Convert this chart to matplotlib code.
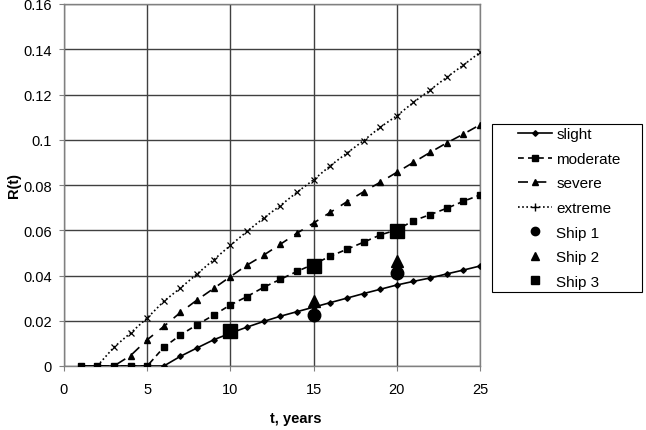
import matplotlib.pyplot as plt
from matplotlib.lines import Line2D
from matplotlib.patches import Rectangle
from matplotlib.ticker import FuncFormatter

plt.rcParams['font.family'] = ['Liberation Sans', 'DejaVu Sans']

t = list(range(1, 26))

slight = [0, 0, 0, 0, 0, 0, 0.0043, 0.0080, 0.0116, 0.0145, 0.0172, 0.0197, 0.0220, 0.0240,
          0.0260, 0.0280, 0.0300, 0.0320, 0.0339, 0.0358, 0.0374, 0.0389, 0.0407, 0.0424, 0.0442]
moderate = [0, 0, 0, 0, 0, 0.0083, 0.0137, 0.0183, 0.0225, 0.0270, 0.0307, 0.0348, 0.0383, 0.0418,
            0.0450, 0.0485, 0.0516, 0.0547, 0.0579, 0.0602, 0.0642, 0.0669, 0.0697, 0.0728, 0.0756]
severe = [0, 0, 0, 0.0046, 0.0116, 0.0175, 0.0237, 0.0292, 0.0343, 0.0395, 0.0446, 0.0490, 0.0538,
          0.0587, 0.0632, 0.0679, 0.0726, 0.0770, 0.0812, 0.0856, 0.0900, 0.0944, 0.0986, 0.1025, 0.1066]
extreme = [0, 0, 0.0083, 0.0146, 0.0212, 0.0286, 0.0345, 0.0407, 0.0470, 0.0533, 0.0595, 0.0654,
           0.0709, 0.0768, 0.0823, 0.0885, 0.0941, 0.0996, 0.1055, 0.1106, 0.1165, 0.1220, 0.1276,
           0.1330, 0.1386]

ship1_t = [15, 20]
ship1 = [0.0227, 0.0411]
ship2_t = [15, 20]
ship2 = [0.0289, 0.0465]
ship3_t = [10, 15, 20]
ship3 = [0.0153, 0.0443, 0.0598]

fs = 10.5

fig = plt.figure(figsize=(6.46, 4.31), dpi=100)
ax = fig.add_axes([64/646, 1-367/431, (480-64)/646, (367-5)/431])

lw = 1.2
ax.plot(t, slight, color='black', lw=lw, ls='-', marker='D', ms=2.8, zorder=3)
ax.plot(t, moderate, color='black', lw=lw, ls=(0, (3.5, 2.5)), marker='s', ms=3.8, zorder=3)
ax.plot(t, severe, color='black', lw=lw, ls=(0, (6, 5)), marker='^', ms=4.2, zorder=3)
ax.plot(t, extreme, color='black', lw=lw, ls=(0, (1, 1.5)), marker='x', ms=5, mew=0.9, zorder=3)

ax.plot(ship1_t, ship1, ls='none', color='black', marker='o', ms=9, zorder=4)
ax.plot(ship2_t, ship2, ls='none', color='black', marker='^', ms=9, zorder=4)
ax.plot(ship3_t, ship3, ls='none', color='black', marker='s', ms=10, zorder=4)

ax.set_xlim(0, 25)
ax.set_ylim(0, 0.16)
ax.set_xticks(range(0, 26, 5))
ax.set_yticks([i * 0.02 for i in range(9)])
ax.yaxis.set_major_formatter(FuncFormatter(lambda v, p: '%g' % round(v, 2)))
ax.grid(True, color='#404040', lw=1.0)
ax.set_axisbelow(True)
for s in ax.spines.values():
    s.set_color('#808080')
    s.set_linewidth(1.0)
ax.tick_params(labelsize=fs, length=3.6, color='#808080')
ax.tick_params(axis='x', pad=8)
ax.tick_params(axis='y', pad=5)

ax.set_xlabel('t, years', fontsize=fs, fontweight='bold')
ax.set_ylabel('R(t)', fontsize=fs, fontweight='bold')
ax.xaxis.set_label_coords((296 - 64) / 416, -(412 - 367) / 362)
ax.yaxis.set_label_coords(-(64 - 21) / 416, (367 - 186) / 362)

handles = [
    Line2D([], [], color='black', lw=lw, ls='-', marker='D', ms=2.8),
    Line2D([], [], color='black', lw=lw, ls=(0, (3.5, 2.5)), marker='s', ms=3.8),
    Line2D([], [], color='black', lw=lw, ls=(0, (6, 5)), marker='^', ms=4.2),
    Line2D([], [], color='black', lw=lw, ls=(0, (1, 1.5)), marker='+', ms=6),
    Line2D([], [], color='black', ls='none', marker='o', ms=6),
    Line2D([], [], color='black', ls='none', marker='^', ms=6),
    Line2D([], [], color='black', ls='none', marker='s', ms=6),
]
labels = ['slight', 'moderate', 'severe', 'extreme', 'Ship 1', 'Ship 2', 'Ship 3']
fig.legend(handles, labels, loc='center left', bbox_to_anchor=(518/646, 1-209/431),
           fontsize=11, numpoints=1, handlelength=2.2, labelspacing=0.69,
           frameon=False, borderpad=0, handletextpad=0.3, borderaxespad=0)
fig.patches.append(Rectangle((492/646, 1-293/431), 150/646, 168/431, transform=fig.transFigure,
                             fill=False, edgecolor='black', lw=0.8))

fig.savefig('out.png', dpi=100)
